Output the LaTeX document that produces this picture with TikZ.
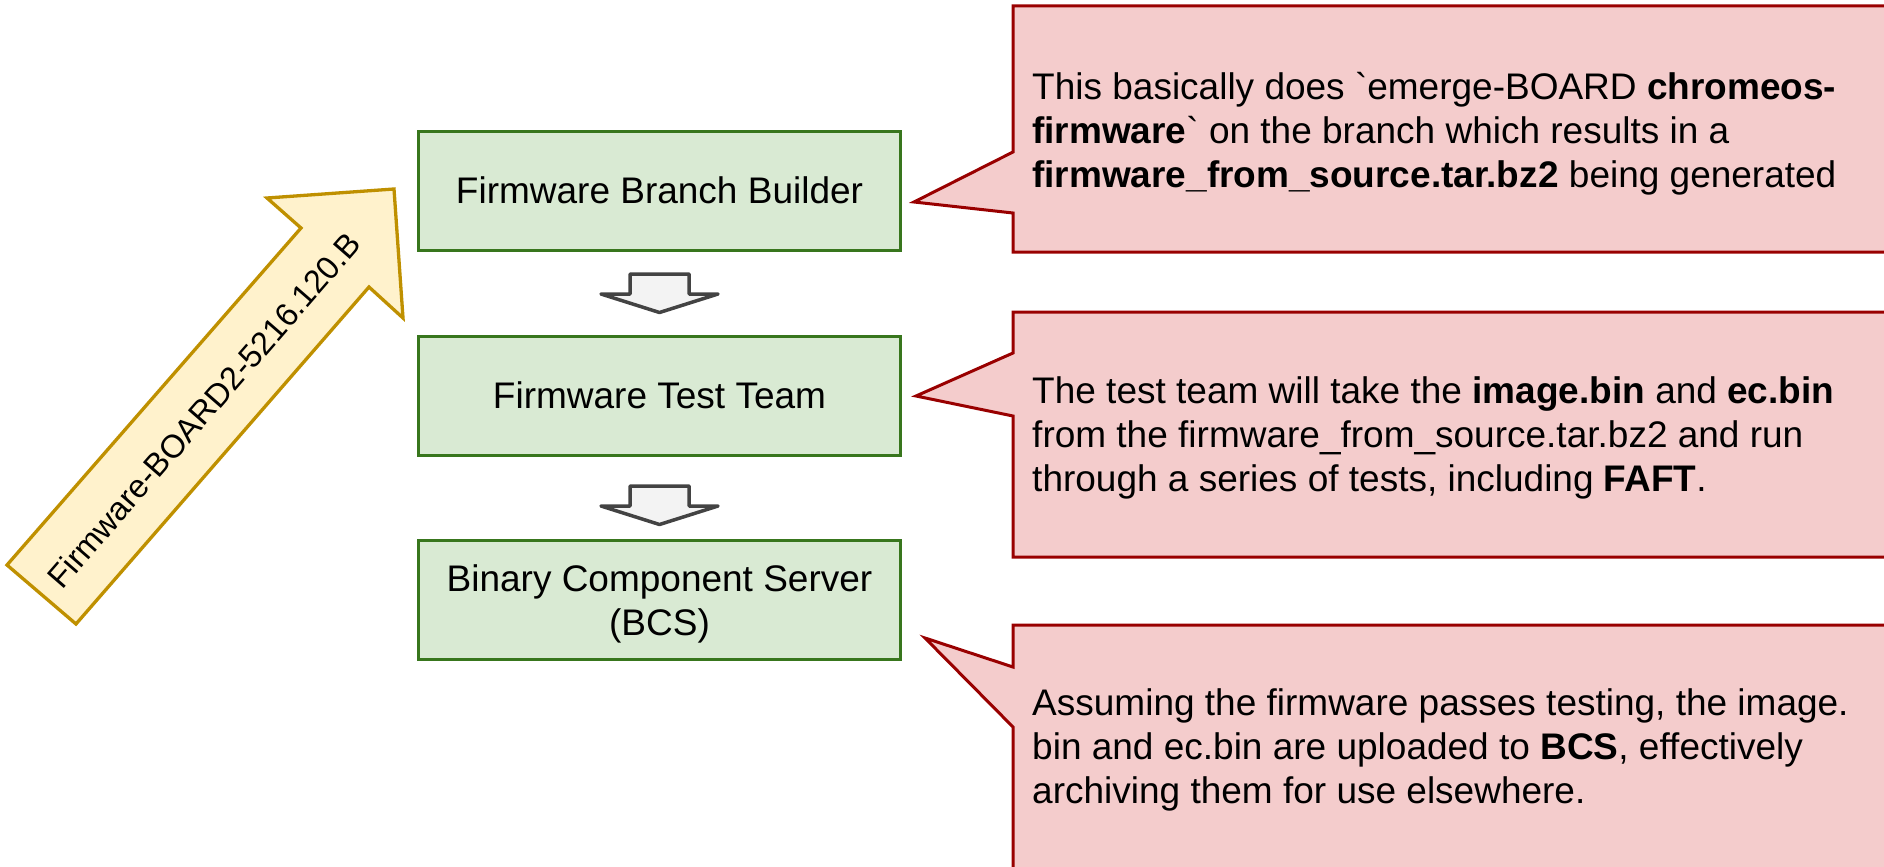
\documentclass[tikz,border=0pt]{standalone}
\usepackage{fontspec}
\setmainfont{Liberation Sans}[Ligatures=TeXOff]
\definecolor{stagefill}{HTML}{D9EAD3}
\definecolor{stageline}{HTML}{38761D}
\definecolor{notefill}{HTML}{F4CCCC}
\definecolor{noteline}{HTML}{990000}
\definecolor{tagfill}{HTML}{FFF2CC}
\definecolor{tagline}{HTML}{BF9000}
\definecolor{flowfill}{HTML}{F3F3F3}
\definecolor{flowline}{HTML}{434343}
\begin{document}
\begin{tikzpicture}[x=1pt,y=-1pt,
  stage/.style={draw=stageline, fill=stagefill, line width=3pt,
    minimum width=482pt, minimum height=119pt, inner sep=0pt, align=center,
    font=\fontsize{37}{44.5}\selectfont},
  notebox/.style={draw=noteline, fill=notefill, line width=3pt, line join=miter},
  notetext/.style={anchor=west, align=left, inner sep=0pt,
    font=\fontsize{37}{44}\selectfont},
  tagshape/.style={draw=tagline, fill=tagfill, line width=3.3pt, line join=miter},
  flowarrow/.pic={
    \draw[draw=flowline, fill=flowfill, line width=3.5pt, line join=round]
      (-29.5,0) -- (29.5,0) -- (29.5,20) -- (58.5,20) -- (0,38.5)
      -- (-58.5,20) -- (-29.5,20) -- cycle;
  }]
\useasboundingbox (0,0) rectangle (1884,867);
\clip (0,0) rectangle (1884,867);

% release tag arrow
\draw[tagshape] (7,565) -- (301,228) -- (267,198) -- (394,189)
  -- (403,318) -- (369,287) -- (76,624) -- cycle;
\node[rotate=49, inner sep=0pt, font=\fontsize{32.5}{38}\selectfont]
  (tag) at (204,410) {Firmware-BOARD2-5216.120.B};

% pipeline stages
\node[stage] (b1) at (659.5,190.5) {Firmware Branch Builder};
\node[stage] (b2) at (659.5,395.5) {Firmware Test Team};
\node[stage, text depth=0pt] (b3) at (659.5,600) {Binary Component Server\\(BCS)};

\pic at (659.5,274) {flowarrow};
\pic at (659.5,486) {flowarrow};

% explanatory callouts
\draw[notebox] (1013,6) -- (1900,6) -- (1900,252) -- (1013,252)
  -- (1013,213) -- (914,202) -- (1013,152) -- cycle;
\node[notetext] (n1) at (1032,134)
  {This basically does `emerge-BOARD \textbf{chromeos-}\\
   \textbf{firmware}` on the branch which results in a\\
   \textbf{firmware\_from\_source.tar.bz2} being generated};

\draw[notebox] (1013,312) -- (1900,312) -- (1900,557) -- (1013,557)
  -- (1013,416) -- (916,396) -- (1013,353) -- cycle;
\node[notetext] (n2) at (1032,437.5)
  {The test team will take the \textbf{image.bin} and \textbf{ec.bin}\\
   from the firmware\_from\_source.tar.bz2 and run\\
   through a series of tests, including \textbf{FAFT}.};

\draw[notebox] (1013,625) -- (1900,625) -- (1900,900) -- (1013,900)
  -- (1013,727) -- (925,638) -- (1013,667) -- cycle;
\node[notetext] (n3) at (1032,749.5)
  {Assuming the firmware passes testing, the image.\\
   bin and ec.bin are uploaded to \textbf{BCS}, effectively\\
   archiving them for use elsewhere.};
\end{tikzpicture}
\end{document}
